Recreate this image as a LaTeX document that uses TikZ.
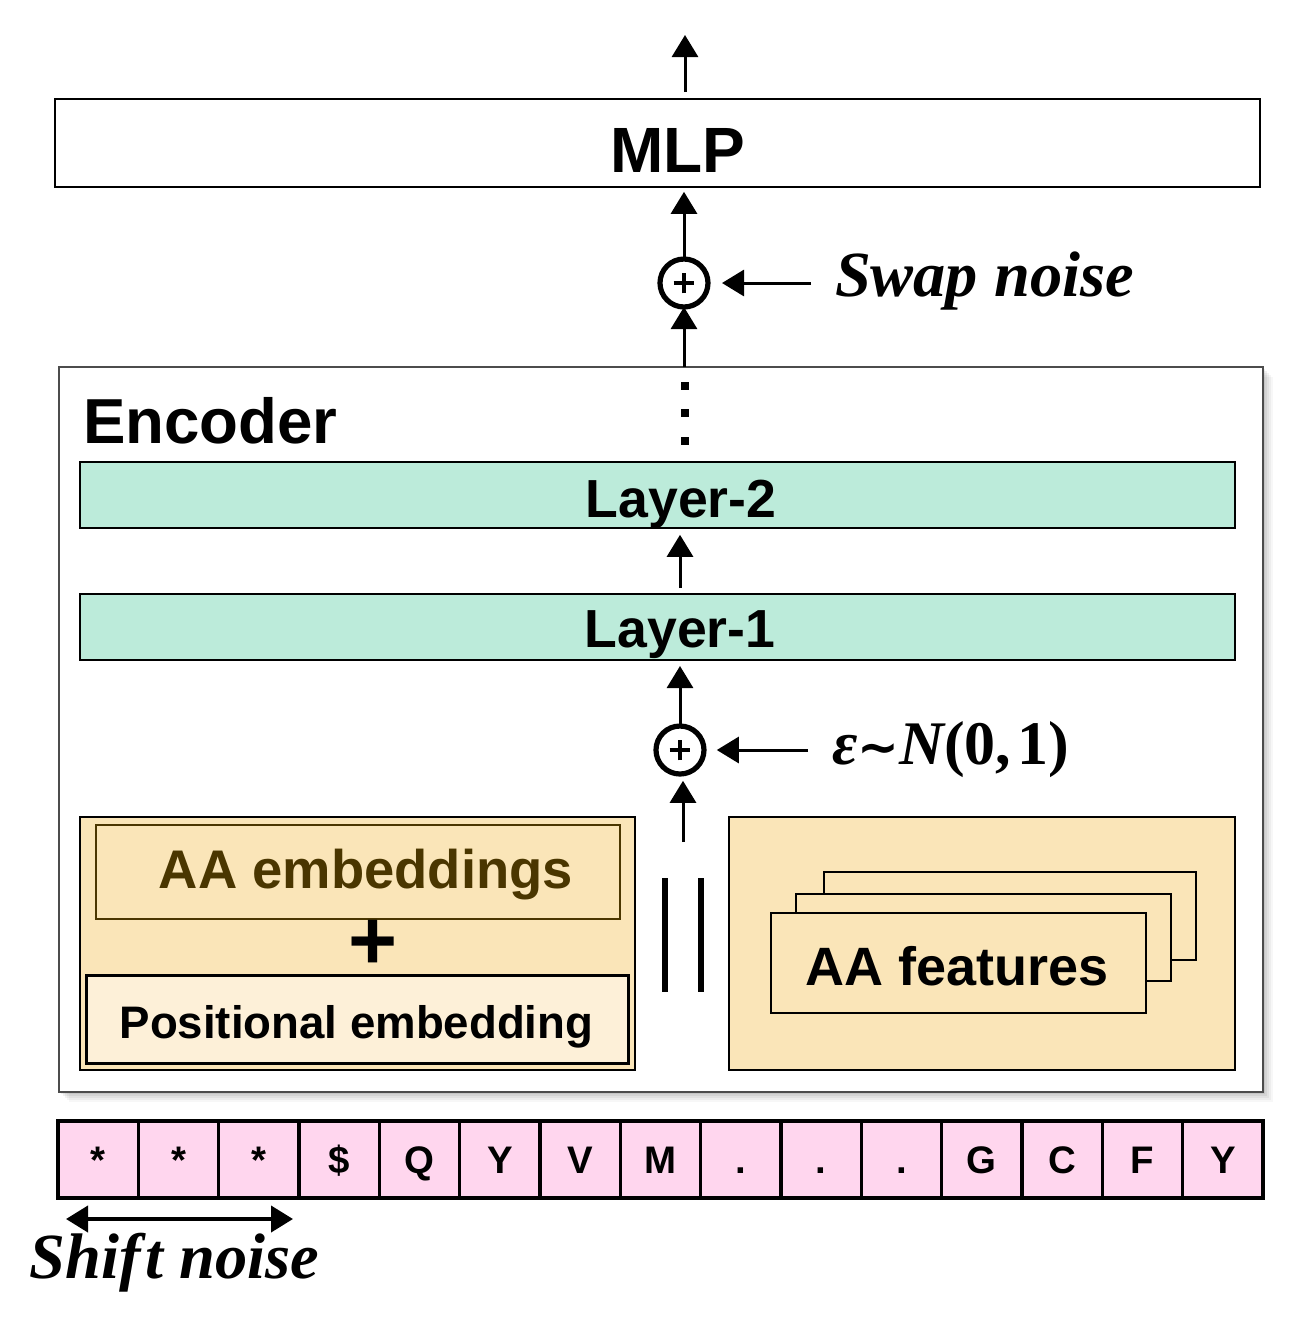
\documentclass[tikz,border=0pt]{standalone}
\usepackage{fontspec}
\setmainfont{Liberation Sans}
\newfontfamily\serifbi{Liberation Serif}
\newfontfamily\dejavu{DejaVu Sans}
\usetikzlibrary{arrows.meta}
\definecolor{mint}{HTML}{BCEBDA}
\definecolor{tan}{HTML}{FAE5B8}
\definecolor{lighttan}{HTML}{FDF0D8}
\definecolor{browntxt}{HTML}{4A3600}
\definecolor{pinkcell}{HTML}{FFD6EE}
\newcommand{\swaptxt}{\serifbi\bfseries\itshape\fontsize{16.1}{18}\selectfont Swap noise}
\newcommand{\shifttxt}{\serifbi\bfseries\itshape\fontsize{16.1}{18}\selectfont Shif\kern1.2pt t noise}
\newcommand{\epstxt}{\serifbi\bfseries\fontsize{15.5}{18}\selectfont{\itshape ε}{\dejavu\fontsize{12.5}{14}\selectfont ∼}{\itshape N}(0,\kern1.5pt 1)}
\tikzset{
  box/.style={draw, line width=0.5pt, inner sep=0, outer sep=0},
  arr/.style={-{Triangle[length=5.5pt,width=6.5pt]}, line width=0.75pt},
  dbl/.style={{Triangle[length=5.5pt,width=6.5pt]}-{Triangle[length=5.5pt,width=6.5pt]}, line width=1pt},
  oplus/.style={circle, draw, line width=1.3pt, minimum size=12pt, inner sep=0, outer sep=0},
  sfb/.style={font=\bfseries\fontsize{#1}{#1}\selectfont},
  lbl/.style={inner sep=0, outer sep=0}
}
\begin{document}
\begin{tikzpicture}[x=0.25pt,y=-0.25pt]
\useasboundingbox (0,0) rectangle (1297,1320);

% encoder shadow
\foreach \o/\op in {10/0.03,8/0.04,6/0.05,4/0.06,2/0.07}
  \fill[black, opacity=\op] (59+\o,367+\o) rectangle (1263+\o,1092+\o);
\node[box, draw=black!70, fill=white, minimum width=301pt, minimum height=181.25pt] (enc) at (661,729.5) {};
\node[lbl, sfb=15.9, anchor=base west] (enclbl) at (83,443) {Encoder};

% MLP
\node[box, minimum width=301.25pt, minimum height=22pt] (mlp) at (657.5,143) {};
\node[lbl, sfb=16, anchor=base] (mlplbl) at (678,172) {MLP};
\coordinate (out) at (685,35);
\coordinate (outstart) at (685,92);
\draw[arr] (outstart) -- (out);

% swap noise
\node[oplus] (swap) at (684,283) {};
\draw[line width=1pt] ([xshift=-2.6pt]swap.center) -- ([xshift=2.6pt]swap.center);
\draw[line width=1pt] ([yshift=-2.6pt]swap.center) -- ([yshift=2.6pt]swap.center);
\node[lbl, anchor=base west] (swaplbl) at (835,296) {\swaptxt};
\draw[arr, shorten <=6pt, shorten >=3.5pt] (swaplbl.west |- swap.east) -- (swap.east);
\draw[arr, shorten >=1.2pt] (swap.north) -- (swap.north |- mlp.south);
\draw[arr] (swap.south |- enc.north) -- (swap.south);

% dots
\foreach \yy in {386,413,441}
  \fill (681,\yy-4) rectangle (689,\yy+4);

% layers
\node[box, fill=mint, minimum width=288.75pt, minimum height=16.5pt] (l2) at (657.5,495) {};
\node[lbl, sfb=13.4, anchor=base] (l2lbl) at (681,517) {Layer-2};
\node[box, fill=mint, minimum width=288.75pt, minimum height=16.5pt] (l1) at (657.5,627) {};
\node[lbl, sfb=13.4, anchor=base] (l1lbl) at (680,647) {Layer-1};

% eps plus
\node[oplus] (plus2) at (680,750) {};
\draw[line width=1pt] ([xshift=-2.6pt]plus2.center) -- ([xshift=2.6pt]plus2.center);
\draw[line width=1pt] ([yshift=-2.6pt]plus2.center) -- ([yshift=2.6pt]plus2.center);
\node[lbl, anchor=base west] (epslbl) at (832,764) {\epstxt};
\draw[arr, shorten <=6pt, shorten >=3.2pt] (epslbl.west |- plus2.east) -- (plus2.east);

\draw[arr, shorten <=1.5pt, shorten >=1.7pt] (plus2.north |- l1.north) -- (plus2.north |- l2.south);
\draw[arr, shorten >=1.5pt] (plus2.north) -- (plus2.north |- l1.south);
\coordinate (catTop) at (683,842);
\draw[arr, shorten >=1.7pt] (catTop) -- (catTop |- plus2.south);

% left block
\node[box, fill=tan, minimum width=138.75pt, minimum height=63.25pt] (left) at (357.5,943.5) {};
\node[box, draw=browntxt, line width=0.7pt, fill=tan, minimum width=131pt, minimum height=23.5pt] (aaemb) at (358,872) {};
\node[lbl, sfb=13.6, text=browntxt, anchor=base] (aaemblbl) at (366,888) {AA embeddings};
\node[lbl, sfb=21] (plussign) at (373,945) {+};
\node[box, line width=0.75pt, fill=lighttan, minimum width=135.5pt, minimum height=22pt] (pos) at (357,1019.5) {};
\node[lbl, sfb=11.4, anchor=base] (poslbl) at (356.5,1038) {Positional embedding};

% concat bars
\coordinate (barA) at (664.5,878);
\coordinate (barAe) at (664.5,992);
\coordinate (barB) at (700.5,878);
\coordinate (barBe) at (700.5,992);
\draw[line width=1.5pt] (barA) -- (barAe);
\draw[line width=1.5pt] (barB) -- (barBe);

% right block
\node[box, fill=tan, minimum width=126.5pt, minimum height=63.25pt] (right) at (982,943.5) {};
\node[box, fill=tan, minimum width=93pt, minimum height=22pt] (fback) at (1010,916) {};
\node[box, fill=tan, minimum width=93.75pt, minimum height=21.75pt] (fmid) at (983.5,937.5) {};
\node[box, fill=tan, minimum width=93.75pt, minimum height=25pt] (ffront) at (958.5,963) {};
\node[lbl, sfb=13.5, anchor=base] (ffrontlbl) at (957,985) {AA features};

% sequence
\foreach \t [count=\i] in {*,*,*,\$,Q,Y,V,M,.,.,.,G,C,F,Y}
  \node[draw, line width=0.75pt, fill=pinkcell, inner sep=0, outer sep=0,
        minimum width=20.083pt, minimum height=19.25pt, text height=7pt, text depth=0pt, sfb=9.6] (c\i) at (58+80.333*\i-40.167,1159.5) {\t};
\draw[line width=1.2pt] (c1.north west) rectangle (c15.south east);

% shift noise
\coordinate (shA) at (66,1219);
\coordinate (shB) at (293,1219);
\draw[dbl] (shA) -- (shB);
\node[lbl, anchor=base west] (shiftlbl) at (30,1278) {\shifttxt};
\end{tikzpicture}
\end{document}
